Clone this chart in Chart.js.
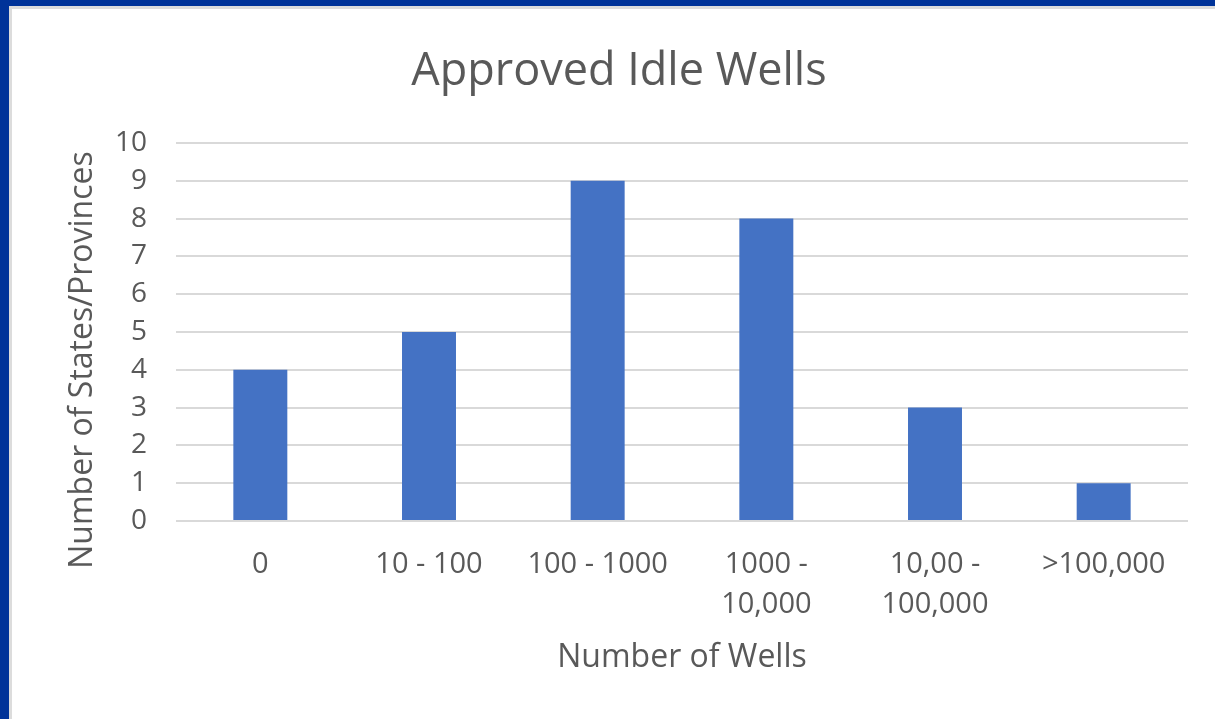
<!DOCTYPE html>
<html>
<head>
<meta charset="utf-8">
<script src="https://cdn.jsdelivr.net/npm/chart.js@4"></script>
<style>
  body { margin: 0; background: #fff; }
  .frame { position: absolute; left: 0; top: 0; width: 1215px; height: 719px;
           border-left: 9px solid #003399; border-top: 6px solid #003399; box-sizing: border-box; }
  .inner { width: 100%; height: 100%; border-left: 3px solid #dcdcdc; border-top: 3px solid #dcdcdc; box-sizing: border-box; }
  canvas { display: block; }
</style>
</head>
<body>
<div class="frame"><div class="inner">
  <canvas id="grafico" width="1203" height="710"></canvas>
</div></div>
<script>
  // datos
  const categorias = [['0'], ['10 - 100'], ['100 - 1000'], ['1000 -', '10,000'], ['10,00 -', '100,000'], ['>100,000']];
  const valores = [4, 5, 9, 8, 3, 1];
  const ticksY = [0, 1, 2, 3, 4, 5, 6, 7, 8, 9, 10];
  const tituloY = 'Number of States/Provinces';

  const gris = '#595959';
  const fuente = '"Open Sans", "Noto Sans", sans-serif';

  // titulo del eje Y (va un poco mas abajo que el centro del area)
  const tituloEjeY = {
    id: 'tituloEjeY',
    afterDraw(chart) {
      const { ctx, chartArea } = chart;
      ctx.save();
      ctx.translate(71, (chartArea.top + chartArea.bottom) / 2 + 28);
      ctx.rotate(-Math.PI / 2);
      ctx.fillStyle = gris;
      ctx.font = '32px ' + fuente;
      ctx.textAlign = 'center';
      ctx.textBaseline = 'middle';
      ctx.fillText(tituloY, 0, 0);
      ctx.restore();
    }
  };

  const ctx = document.getElementById('grafico').getContext('2d');
  new Chart(ctx, {
    type: 'bar',
    data: {
      labels: categorias,
      datasets: [{
        label: 'Approved Idle Wells',
        data: valores,
        backgroundColor: '#4472C4',
        barPercentage: 0.32,
        categoryPercentage: 1
      }]
    },
    plugins: [tituloEjeY],
    options: {
      responsive: false,
      animation: false,
      layout: { padding: { left: 38, right: 27, top: 0, bottom: 0 } },
      plugins: {
        legend: { display: false },
        tooltip: { enabled: false },
        title: {
          display: true,
          text: 'Approved Idle Wells',
          color: gris,
          font: { family: fuente, size: 45, weight: 'normal', lineHeight: 1.2 },
          padding: { top: 36, bottom: 44 }
        }
      },
      scales: {
        x: {
          grid: { display: false },
          border: { display: false },
          ticks: {
            color: gris,
            font: { family: fuente, size: 29, lineHeight: 1.38 },
            padding: 16,
            maxRotation: 0,
            autoSkip: false
          },
          title: {
            display: true,
            text: 'Number of Wells',
            color: gris,
            font: { family: fuente, size: 32, lineHeight: 1.2 },
            padding: { top: 0, bottom: 42 }
          },
          afterFit: (scale) => { scale.height = 198; }
        },
        y: {
          min: 0,
          max: 10,
          afterBuildTicks: (scale) => { scale.ticks = ticksY.map(v => ({ value: v })); },
          grid: { color: '#d9d9d9', lineWidth: 2, drawTicks: false },
          border: { display: false },
          ticks: {
            color: gris,
            font: { family: fuente, size: 28 },
            padding: 29
          },
          afterFit: (scale) => { scale.width = 126; }
        }
      }
    }
  });
</script>
</body>
</html>
